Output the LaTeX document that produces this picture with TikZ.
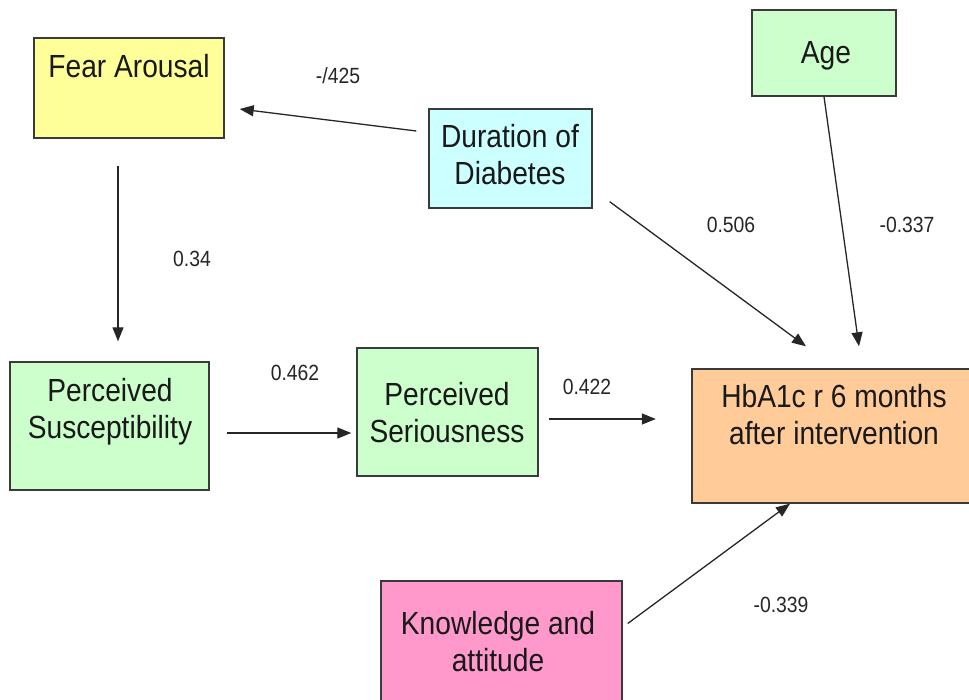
\documentclass[tikz,border=0pt]{standalone}
\usepackage{fontspec}
\setmainfont[FakeStretch=0.88]{Liberation Sans}
\usetikzlibrary{arrows.meta}

\definecolor{fearfill}{HTML}{FFFF99}
\definecolor{greenfill}{HTML}{CCFFCC}
\definecolor{cyanfill}{HTML}{CCFFFF}
\definecolor{peachfill}{HTML}{FFCC99}
\definecolor{pinkfill}{HTML}{FF99CC}
\definecolor{edgegray}{HTML}{3A3A3A}

% two centred lines, baseline on the first one
\newcommand\boxlines[2]{\begin{tabular}[t]{@{}c@{}}#1\\#2\end{tabular}}

\tikzset{
  varbox/.style={draw=edgegray, line width=1.4pt, rectangle, inner sep=0pt},
  boxtext/.style={anchor=base, inner sep=0pt,
    font=\fontsize{32}{37.5}\selectfont, text=black!90},
  coef/.style={anchor=base, inner sep=0pt,
    font=\fontsize{22}{26}\selectfont, text=black!85},
  path arrow/.style={line width=1.3pt, draw=black!85,
    -{Triangle[length=14pt,width=11pt]}},
}

\begin{document}
\begin{tikzpicture}[x=1pt, y=-1pt]
\useasboundingbox (0,0) rectangle (969,699);

% variable boxes
\node[varbox, fill=fearfill,  minimum width=190pt, minimum height=100pt] (fear) at (129,88) {};
\node[varbox, fill=greenfill, minimum width=144pt, minimum height=86pt]  (age)  at (824,53) {};
\node[varbox, fill=cyanfill,  minimum width=163pt, minimum height=99pt]  (dur)  at (510.5,158.5) {};
\node[varbox, fill=greenfill, minimum width=199pt, minimum height=128pt] (susc) at (109.5,426) {};
\node[varbox, fill=greenfill, minimum width=181pt, minimum height=128pt] (seri) at (447.5,412) {};
\node[varbox, fill=peachfill, minimum width=283pt, minimum height=134pt] (hba)  at (833.5,436) {};
\node[varbox, fill=pinkfill,  minimum width=241pt, minimum height=130pt] (know) at (501.5,646) {};

% box texts
\node[boxtext] (fear-t) at (129,77)  {Fear Arousal};
\node[boxtext] (age-t)  at (826,63)  {Age};
\node[boxtext] (dur-t)  at (510,147) {\boxlines{Duration of}{Diabetes}};
\node[boxtext] (susc-t) at (110,401) {\boxlines{Perceived}{Susceptibility}};
\node[boxtext] (seri-t) at (447,405) {\boxlines{Perceived}{Seriousness}};
\node[boxtext] (hba-t)  at (834,407) {\boxlines{HbA1c r 6 months}{after intervention}};
\node[boxtext] (know-t) at (498,634) {\boxlines{Knowledge and}{attitude}};

% paths
\draw[path arrow] ([shift={(-12,-27.5)}]dur.west) -- ([shift={(15,21)}]fear.east);
\draw[path arrow] ([shift={(-11,27)}]fear.south) -- ([shift={(8.5,-20)}]susc.north);
\draw[path arrow] ([shift={(17,7)}]susc.east) -- ([shift={(-5,21)}]seri.west);
\draw[path arrow] ([shift={(10,7)}]seri.east) -- ([shift={(-35.5,-17)}]hba.west);
\draw[path arrow] ([shift={(17,-7)}]dur.south east) -- ([shift={(-27.5,-22)}]hba.north);
\draw[path arrow] (age.south) -- ([shift={(25.5,-22)}]hba.north);
\draw[path arrow] ([shift={(5,-22.5)}]know.east) -- ([shift={(-43.5,0)}]hba.south);

% path coefficients
\node[coef] (c-fear) at (338,83)  {-/425};
\node[coef] (c-fs)   at (192,266) {0.34};
\node[coef] (c-ss)   at (295,380) {0.462};
\node[coef] (c-sh)   at (587,394) {0.422};
\node[coef] (c-dh)   at (731,232) {0.506};
\node[coef] (c-ah)   at (907,232) {-0.337};
\node[coef] (c-kh)   at (781,612) {-0.339};
\end{tikzpicture}
\end{document}
